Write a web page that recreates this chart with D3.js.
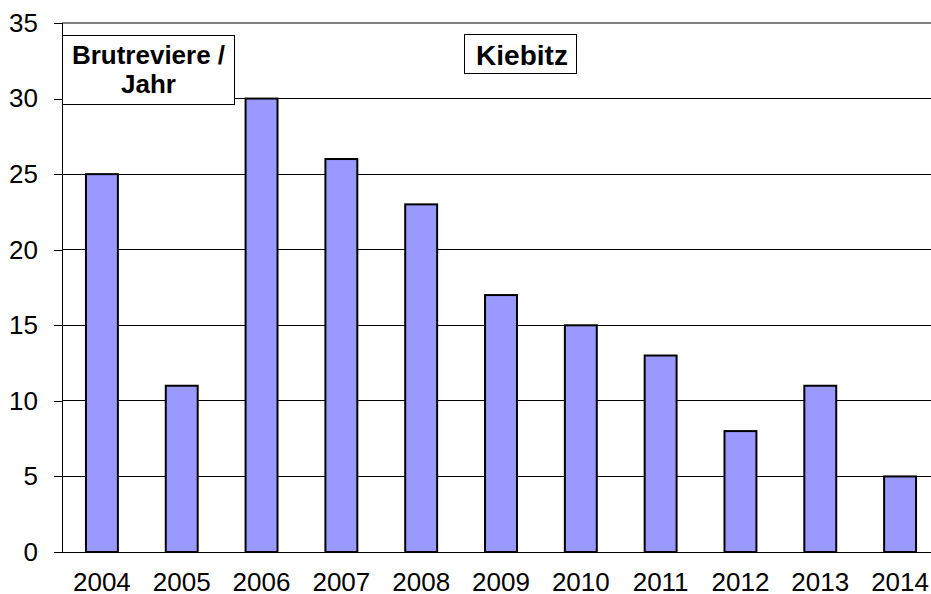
<!DOCTYPE html>
<html>
<head>
<meta charset="utf-8">
<script src="https://cdn.jsdelivr.net/npm/d3@7"></script>
<style>
  body { margin: 0; background: #fff; }
  svg { display: block; font-family: Arial, 'Liberation Sans', sans-serif; }
</style>
</head>
<body>
<div id="chart"></div>
<script>
const years = ['2004', '2005', '2006', '2007', '2008', '2009', '2010', '2011', '2012', '2013', '2014'];
const territories = [25, 11, 30, 26, 23, 17, 15, 13, 8, 11, 5];
const yTicks = [0, 5, 10, 15, 20, 25, 30, 35];

const width = 931, height = 594;
const plotLeft = 62, plotRight = 940, plotTop = 23, plotBottom = 552;
const fontFamily = 'Arial, "Liberation Sans", sans-serif';

const svg = d3.select('#chart').append('svg')
  .attr('width', width)
  .attr('height', height);

const x = d3.scaleBand()
  .domain(years)
  .range([plotLeft, plotRight])
  .paddingInner(0.6)
  .paddingOuter(0.3);

const y = d3.scaleLinear()
  .domain([0, 35])
  .range([plotBottom, plotTop]);

// gridlines
svg.append('g')
  .selectAll('line')
  .data(yTicks.filter(d => d > 0))
  .join('line')
    .attr('x1', plotLeft)
    .attr('x2', width)
    .attr('y1', d => y(d))
    .attr('y2', d => y(d))
    .attr('stroke', d => d === 35 ? '#808080' : '#000')
    .attr('stroke-width', d => d === 35 ? 2 : 1)
    .attr('shape-rendering', 'crispEdges');

// y axis
const yAxis = d3.axisLeft(y)
  .tickValues(yTicks)
  .tickSize(8)
  .tickPadding(16)
  .tickFormat(d => d);
svg.append('g')
  .attr('transform', `translate(${plotLeft},0)`)
  .attr('font-size', 26)
  .attr('font-family', fontFamily)
  .call(yAxis)
  .call(g => g.select('.domain').attr('stroke', '#000').attr('shape-rendering', 'crispEdges'))
  .call(g => g.selectAll('.tick line').attr('stroke', '#000').attr('shape-rendering', 'crispEdges'))
  .call(g => g.selectAll('text')
    .attr('font-size', 26)
    .attr('fill', '#000'));

// bars
svg.append('g')
  .selectAll('rect')
  .data(years.map((yr, i) => ({ year: yr, value: territories[i] })))
  .join('rect')
    .attr('x', d => x(d.year))
    .attr('y', d => y(d.value))
    .attr('width', x.bandwidth())
    .attr('height', d => y(0) - y(d.value))
    .attr('fill', '#9999ff')
    .attr('stroke', '#000')
    .attr('stroke-width', 2);

// x axis line
svg.append('line')
  .attr('x1', plotLeft)
  .attr('x2', width)
  .attr('y1', y(0))
  .attr('y2', y(0))
  .attr('stroke', '#000')
  .attr('stroke-width', 1)
  .attr('shape-rendering', 'crispEdges');

// x labels
svg.append('g')
  .selectAll('text')
  .data(years)
  .join('text')
    .attr('x', d => x(d) + x.bandwidth() / 2)
    .attr('y', 591)
    .attr('text-anchor', 'middle')
    .attr('font-size', 26)
    .attr('fill', '#000')
    .text(d => d);

// unit label box
svg.append('rect')
  .attr('x', 62.5)
  .attr('y', 35.5)
  .attr('width', 172)
  .attr('height', 69)
  .attr('fill', '#fff')
  .attr('stroke', '#000')
  .attr('stroke-width', 1);
svg.append('text')
  .attr('x', 148.5)
  .attr('y', 64)
  .attr('text-anchor', 'middle')
  .attr('font-size', 26)
  .attr('font-weight', 'bold')
  .text('Brutreviere /');
svg.append('text')
  .attr('x', 148.5)
  .attr('y', 93)
  .attr('text-anchor', 'middle')
  .attr('font-size', 26)
  .attr('font-weight', 'bold')
  .text('Jahr');

// title box
svg.append('rect')
  .attr('x', 464.5)
  .attr('y', 34.5)
  .attr('width', 112)
  .attr('height', 39)
  .attr('fill', '#fff')
  .attr('stroke', '#000')
  .attr('stroke-width', 1);
svg.append('text')
  .attr('x', 522)
  .attr('y', 65)
  .attr('text-anchor', 'middle')
  .attr('font-size', 28)
  .attr('font-weight', 'bold')
  .text('Kiebitz');
</script>
</body>
</html>
